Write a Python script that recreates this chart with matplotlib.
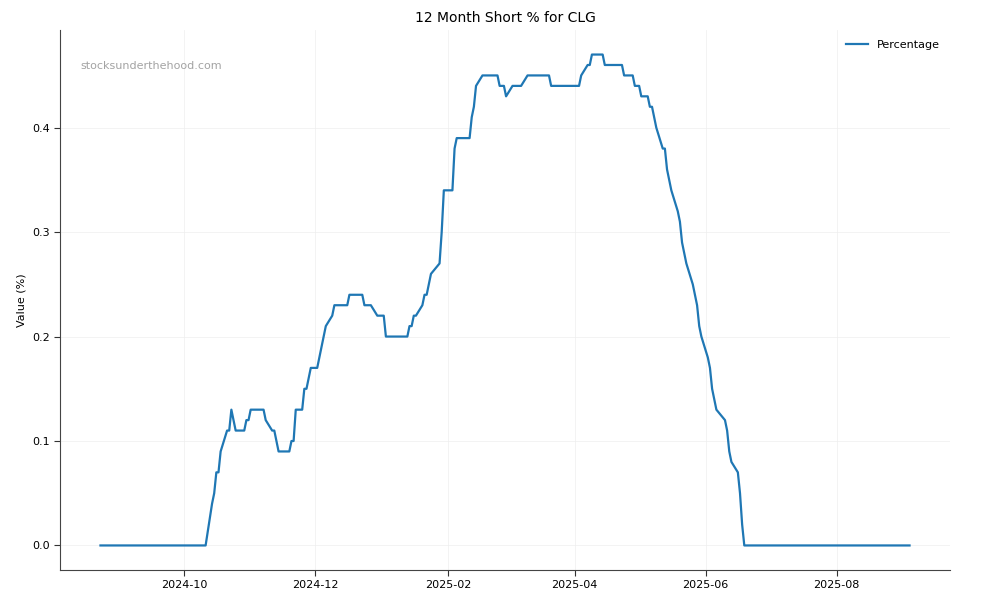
import matplotlib
matplotlib.use("Agg")
import matplotlib.pyplot as plt
import matplotlib.dates as mdates
import pandas as pd

dates = [
    "2024-08-23", "2024-10-11", "2024-10-14", "2024-10-15", "2024-10-16", "2024-10-17",
    "2024-10-18", "2024-10-21", "2024-10-22", "2024-10-23", "2024-10-25", "2024-10-29",
    "2024-10-30", "2024-10-31", "2024-11-01", "2024-11-07", "2024-11-08", "2024-11-11",
    "2024-11-12", "2024-11-14", "2024-11-19", "2024-11-20", "2024-11-21", "2024-11-22",
    "2024-11-25", "2024-11-26", "2024-11-27", "2024-11-29", "2024-12-02", "2024-12-06",
    "2024-12-09", "2024-12-10", "2024-12-16", "2024-12-17", "2024-12-23", "2024-12-24",
    "2024-12-27", "2024-12-30", "2025-01-02", "2025-01-03", "2025-01-13", "2025-01-14",
    "2025-01-15", "2025-01-16", "2025-01-17", "2025-01-20", "2025-01-21", "2025-01-22",
    "2025-01-24", "2025-01-28", "2025-01-29", "2025-01-30", "2025-02-03", "2025-02-04",
    "2025-02-05", "2025-02-11", "2025-02-12", "2025-02-13", "2025-02-14", "2025-02-17",
    "2025-02-24", "2025-02-25", "2025-02-27", "2025-02-28", "2025-03-03", "2025-03-07",
    "2025-03-10", "2025-03-20", "2025-03-21", "2025-04-03", "2025-04-04", "2025-04-07",
    "2025-04-08", "2025-04-09", "2025-04-14", "2025-04-15", "2025-04-23", "2025-04-24",
    "2025-04-28", "2025-04-29", "2025-05-01", "2025-05-02", "2025-05-05", "2025-05-06",
    "2025-05-07", "2025-05-09", "2025-05-12", "2025-05-13", "2025-05-14", "2025-05-16",
    "2025-05-19", "2025-05-20", "2025-05-21", "2025-05-23", "2025-05-26", "2025-05-28",
    "2025-05-29", "2025-05-30", "2025-06-02", "2025-06-03", "2025-06-04", "2025-06-06",
    "2025-06-10", "2025-06-11", "2025-06-12", "2025-06-13", "2025-06-16", "2025-06-17",
    "2025-06-18", "2025-06-19", "2025-09-04",
]
percentage = [
    0.00, 0.00, 0.04, 0.05, 0.07, 0.07,
    0.09, 0.11, 0.11, 0.13, 0.11, 0.11,
    0.12, 0.12, 0.13, 0.13, 0.12, 0.11,
    0.11, 0.09, 0.09, 0.10, 0.10, 0.13,
    0.13, 0.15, 0.15, 0.17, 0.17, 0.21,
    0.22, 0.23, 0.23, 0.24, 0.24, 0.23,
    0.23, 0.22, 0.22, 0.20, 0.20, 0.21,
    0.21, 0.22, 0.22, 0.23, 0.24, 0.24,
    0.26, 0.27, 0.30, 0.34, 0.34, 0.38,
    0.39, 0.39, 0.41, 0.42, 0.44, 0.45,
    0.45, 0.44, 0.44, 0.43, 0.44, 0.44,
    0.45, 0.45, 0.44, 0.44, 0.45, 0.46,
    0.46, 0.47, 0.47, 0.46, 0.46, 0.45,
    0.45, 0.44, 0.44, 0.43, 0.43, 0.42,
    0.42, 0.40, 0.38, 0.38, 0.36, 0.34,
    0.32, 0.31, 0.29, 0.27, 0.25, 0.23,
    0.21, 0.20, 0.18, 0.17, 0.15, 0.13,
    0.12, 0.11, 0.09, 0.08, 0.07, 0.05,
    0.02, 0.00, 0.00,
]

title = "12 Month Short % for CLG"
ylabel = "Value (%)"
series_label = "Percentage"
watermark = "stocksunderthehood.com"

x = pd.to_datetime(dates)

fig = plt.figure(figsize=(10, 6), dpi=100)
ax = fig.add_axes([0.06, 0.05, 0.89, 0.90])
ax.plot(x, percentage, color="#1f77b4", linewidth=1.6, label=series_label)

ax.set_title(title, fontsize=10)
ax.set_ylabel(ylabel, fontsize=8)
ax.xaxis.set_major_locator(mdates.MonthLocator(bymonth=[2, 4, 6, 8, 10, 12]))
ax.xaxis.set_major_formatter(mdates.DateFormatter("%Y-%m"))
ax.set_yticks([0.0, 0.1, 0.2, 0.3, 0.4])
ax.tick_params(labelsize=8, color="#333333", length=4)
ax.grid(True, color="#eeeeee", linewidth=0.6, alpha=0.8)
for s in ["top", "right"]:
    ax.spines[s].set_visible(False)
for s in ["left", "bottom"]:
    ax.spines[s].set_color("#444444")
ax.text(0.023, 0.927, watermark, transform=ax.transAxes, fontsize=8,
        color="#999999", alpha=0.9)
ax.legend(loc="upper right", frameon=False, fontsize=8)

fig.savefig("out.png", dpi=100)
